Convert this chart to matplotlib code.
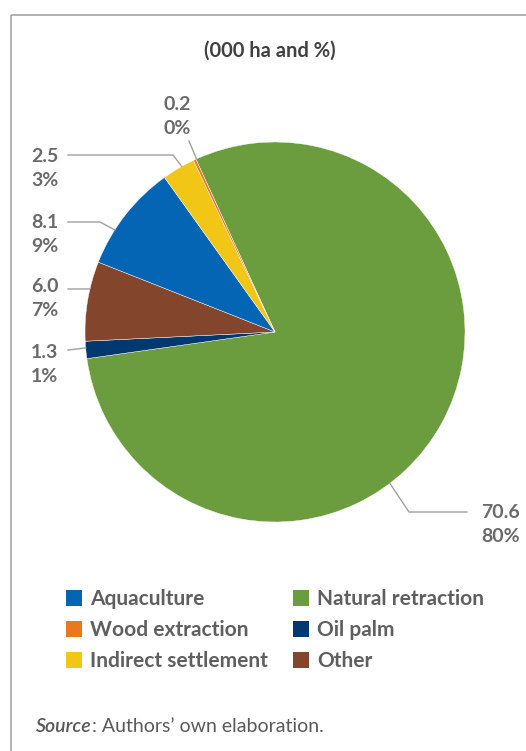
import matplotlib
matplotlib.use("Agg")
import matplotlib.pyplot as plt
from matplotlib.patches import Rectangle
import numpy as np

plt.rcParams['font.family'] = ['Lato', 'DejaVu Sans']

# ---- data (legend order) ----
categories = ["Aquaculture", "Wood extraction", "Indirect settlement",
              "Natural retraction", "Oil palm", "Other"]
values = [8.1, 0.2, 2.5, 70.6, 1.3, 6.0]
pct_labels = ["9%", "0%", "3%", "80%", "1%", "7%"]
colors = ["#0565B5", "#E8791F", "#F2C617", "#6B9D3F", "#00386F", "#83452B"]

# clockwise drawing order of the slices
pie_order = ["Natural retraction", "Oil palm", "Other", "Aquaculture",
             "Indirect settlement", "Wood extraction"]

W, H = 526, 751
fig = plt.figure(figsize=(W / 100, H / 100), dpi=100)

cx, cy, R = 275, 332, 190
ax = fig.add_axes([(cx - R) / W, (H - cy - R) / H, 2 * R / W, 2 * R / H])
idx = [categories.index(c) for c in pie_order]
wedges, _ = ax.pie([values[i] for i in idx], colors=[colors[i] for i in idx],
                   startangle=114.6, counterclock=False, radius=1,
                   wedgeprops=dict(edgecolor="white", linewidth=0.3))
ax.set_xlim(-1, 1)
ax.set_ylim(-1, 1)
ax.set_aspect("equal")
ax.axis("off")

# overlay axes in pixel coordinates
ov = fig.add_axes([0, 0, 1, 1])
ov.set_xlim(0, W)
ov.set_ylim(H, 0)
ov.axis("off")
ov.patch.set_visible(False)

# border (top and left)
ov.plot([11, W], [14.5, 14.5], color="#A6A6A6", lw=1.2, solid_capstyle="butt")
ov.plot([11, 11], [14.5, H], color="#A6A6A6", lw=1.2, solid_capstyle="butt")

ov.text(270, 51, "(000 ha and %)", ha="center", va="center",
        fontsize=14.5, fontweight="bold", color="#404040")

lab_color = "#6A6A6A"
line_color = "#A0A0A0"

def edge_px(angle_deg):
    a = np.deg2rad(angle_deg)
    return cx + R * np.cos(a), cy - R * np.sin(a)

# label layout: text position (left x, first-line y), leader path points, attach angle
layout = {
    "Wood extraction": dict(tx=163, ty=105, path=[(189, 141)], ang=114.4),
    "Indirect settlement": dict(tx=31, ty=156, path=[(68, 155), (173, 155)], ang=119.4),
    "Aquaculture": dict(tx=31, ty=223, path=[(68, 222), (100, 222)], ang=147.5),
    "Other": dict(tx=31, ty=287, path=[(68, 289)], ang=166.9),
    "Oil palm": dict(tx=31, ty=353, path=[(68, 350)], ang=184.8),
    "Natural retraction": dict(tx=481, ty=513, path=[(467, 512), (409, 512)], ang=-52.8),
}

for c in categories:
    i = categories.index(c)
    L = layout[c]
    ex, ey = edge_px(L["ang"])
    pts = L["path"] + [(ex, ey)]
    ov.plot([p[0] for p in pts], [p[1] for p in pts], color=line_color, lw=1.0)
    ov.text(L["tx"], L["ty"], f"{values[i]:.1f}", ha="left", va="center",
            fontsize=14, fontweight="bold", color=lab_color)
    ov.text(L["tx"], L["ty"] + 24, pct_labels[i], ha="left", va="center",
            fontsize=14, fontweight="bold", color=lab_color)

# legend (two columns, filled column-wise)
col_x = [66, 293]
row_y = [598, 629, 660]
for k, c in enumerate(categories):
    col, row = divmod(k, 3)
    x0, y0 = col_x[col], row_y[row]
    ov.add_patch(Rectangle((x0, y0 - 8), 16, 16, facecolor=colors[k],
                           edgecolor="none"))
    ov.text(x0 + 24, y0 + 1, c, ha="left", va="center", fontsize=15,
            fontweight="bold", color="#5F5F5F")

src = ov.text(36, 727, "Source", ha="left", va="center", fontsize=14,
              style="italic", fontweight="semibold", color="#595959")
fig.canvas.draw()
bb = src.get_window_extent()
ov.text(36 + bb.width, 727, ": Authors\u2019 own elaboration.", ha="left",
        va="center", fontsize=14, color="#595959")

fig.savefig("out.png", dpi=100)
